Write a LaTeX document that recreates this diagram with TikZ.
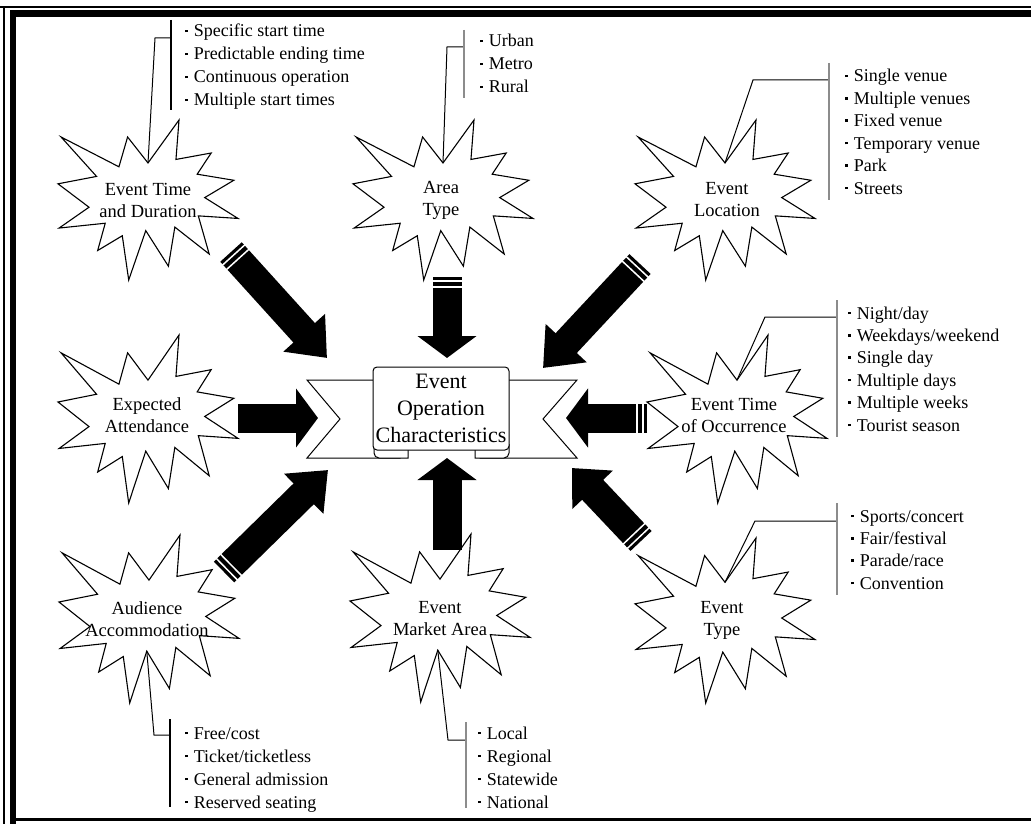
\documentclass[tikz,border=0pt]{standalone}
\usepackage{fontspec}
\setmainfont{Liberation Serif}
\usetikzlibrary{arrows.meta, calc}

\newcommand\sqb{\raisebox{0.27em}{\rule{2.6pt}{2.6pt}}\hspace{6pt}}

% explosion outline on a 216 x 216 grid
\newcommand\boomstar[5]{%
  \begin{scope}[shift={(#2,#3)}, xscale=#4/216, yscale=#5/216]
    \draw[starline] (108,58) -- (145.22,0) -- (141.55,53.25) -- (183.8,44.57) -- (167.02,73.15)
      -- (210.97,81.37) -- (176.07,104.75) -- (216,132.9) -- (168.37,129.42) -- (181.45,180.95)
      -- (140.2,144.57) -- (132.47,197.37) -- (105.32,149.35) -- (84.85,216) -- (77.15,156.27)
      -- (47.62,176.17) -- (56.67,139.37) -- (1.35,145.87) -- (37.22,117.75) -- (0,86.15)
      -- (46.27,76.17) -- (3.7,22.95) -- (73.12,63.2) -- (83.52,22.95) -- cycle;
    \coordinate (#1-top) at (108,58);
    \coordinate (#1-bot) at (105.32,149.35);
  \end{scope}}

% white bands across the tail of a fat arrow
\newcommand\tailbands[2]{%
  \foreach \d in {4pt,10pt}
    {\draw[white, line width=1.5pt] ($(#1)!\d!(#2)!16pt!90:(#2)$) -- ($(#1)!\d!(#2)!16pt!-90:(#2)$);}}

\begin{document}
\begin{tikzpicture}[x=1pt, y=-1pt,
    starline/.style={draw, line width=1.1pt, fill=white},
    startext/.style={align=center, inner sep=0pt, font=\fontsize{18.5}{22}\selectfont},
    listitem/.style={anchor=west, inner sep=0pt, text height=12pt, text depth=4pt, font=\fontsize{18}{22}\selectfont},
    lead/.style={line width=1pt},
    rail/.style={line width=1.8pt, black!45},
    darkrail/.style={line width=1.6pt, black},
    fatarrow/.style={line width=29pt, -{Triangle[length=22pt, width=58pt]}},
    slantarrow/.style={line width=29pt, -{Triangle[length=#1, width=54pt]}},
    slantarrow/.default=34pt
  ]
  \fill[white] (0,0) rectangle (1031,824);
  \useasboundingbox (0,0) rectangle (1031,824);

  % frame
  \fill (0,6) rectangle (1031,8);
  \fill (10,10) rectangle (1031,17);
  \fill (3,6) rectangle (5,824);
  \fill (10,10) rectangle (16,824);
  \fill (10,818) rectangle (1031,821);

  % the eight factors
  \boomstar{dur}{58}{120}{180}{160}
  \node[startext] (durtxt) at (148,200) {Event Time\\and Duration};
  \boomstar{area}{353}{120}{180}{160}
  \node[startext] (areatxt) at (441,200) {Area\\Type};
  \boomstar{loc}{635}{120}{180}{160}
  \node[startext] (loctxt) at (727,200) {Event\\Location};
  \boomstar{att}{58}{335}{180}{168}
  \node[startext] (atttxt) at (147,415) {Expected\\Attendance};
  \boomstar{occ}{647}{335}{180}{168}
  \node[startext] (occtxt) at (734,415) {Event Time\\of Occurrence};
  \boomstar{aud}{59}{535}{180}{168}
  \node[startext] (audtxt) at (147,619) {Audience\\Accommodation};
  \boomstar{mkt}{350}{534}{180}{168}
  \node[startext] (mkttxt) at (440,619) {Event\\Market Area};
  \boomstar{typ}{635}{538}{180}{165}
  \node[startext] (typtxt) at (722,620) {Event\\Type};

  % lists
  \coordinate (durrail) at (171,38);
  \draw[lead] (dur-top) -- (155,38) -- (durrail);
  \draw[darkrail] (171,20) -- (171,110);
  \foreach \t [count=\i] in {Specific start time, Predictable ending time, Continuous operation, Multiple start times}
    \node[listitem] (dur-\i) at (185,33+23*\i-23) {\sqb\t};

  \coordinate (arearail) at (464,47);
  \draw[lead] (area-top) -- (447,47) -- (arearail);
  \draw[rail] (464,30) -- (464,98);
  \foreach \t [count=\i] in {Urban, Metro, Rural}
    \node[listitem] (area-\i) at (480,43+23*\i-23) {\sqb\t};

  \coordinate (locrail) at (829,80);
  \draw[lead] (loc-top) -- (753,80) -- (locrail);
  \draw[rail] (829,63) -- (829,200);
  \foreach \t [count=\i] in {Single venue, Multiple venues, Fixed venue, Temporary venue, Park, Streets}
    \node[listitem] (loc-\i) at (845,78+22.4*\i-22.4) {\sqb\t};

  \coordinate (occrail) at (837,317);
  \draw[lead] (occ-top) -- (765,317) -- (occrail);
  \draw[rail] (837,300) -- (837,437);
  \foreach \t [count=\i] in {Night/day, Weekdays/weekend, Single day, Multiple days, Multiple weeks, Tourist season}
    \node[listitem] (occ-\i) at (848,315+22.4*\i-22.4) {\sqb\t};

  \coordinate (typrail) at (837,521);
  \draw[lead] (typ-top) -- (755,521) -- (typrail);
  \draw[rail] (837,503) -- (837,595);
  \foreach \t [count=\i] in {Sports/concert, Fair/festival, Parade/race, Convention}
    \node[listitem] (typ-\i) at (851,518+22.4*\i-22.4) {\sqb\t};

  \coordinate (audrail) at (170,735);
  \draw[lead] (aud-bot) -- (154,735) -- (audrail);
  \draw[darkrail] (170,719) -- (170,807);
  \foreach \t [count=\i] in {Free/cost, Ticket/ticketless, General admission, Reserved seating}
    \node[listitem] (aud-\i) at (185,735+23*\i-23) {\sqb\t};

  \coordinate (mktrail) at (466,740);
  \draw[lead] (mkt-bot) -- (448,740) -- (mktrail);
  \draw[rail] (466,722) -- (466,808);
  \foreach \t [count=\i] in {Local, Regional, Statewide, National}
    \node[listitem] (mkt-\i) at (478,735+23*\i-23) {\sqb\t};

  % ribbon in the middle
  \draw[line width=1pt, fill=white] (307,380) -- (400,380) -- (400,458) -- (307,458) -- (340,419) -- cycle;
  \draw[line width=1pt, fill=white] (577,380) -- (480,380) -- (480,458) -- (577,458) -- (543,419) -- cycle;
  \draw[line width=1pt, fill=white] (374,444) -- (374,453) to[out=-90, in=180] (379,458) -- (408,458) -- (408,444);
  \draw[line width=1pt, fill=white] (475,444) -- (475,458) -- (504,458) to[out=0, in=-90] (509,453) -- (509,444);
  \node[draw, line width=1pt, fill=white, rounded corners=4pt, minimum width=136pt, minimum height=83pt,
        inner sep=0pt, align=center, font=\fontsize{22}{27}\selectfont] (core) at (441,408.5)
        {Event\\Operation\\Characteristics};

  % fat arrows
  \coordinate (tail1) at (231,252);  \coordinate (tip1) at (327,358);
  \coordinate (tail2) at (447,277);  \coordinate (tip2) at (447,358);
  \coordinate (tail3) at (640,264);  \coordinate (tip3) at (543,368);
  \coordinate (tail4) at (238,418);  \coordinate (tip4) at (318,418);
  \coordinate (tail5) at (647,418);  \coordinate (tip5) at (566,418);
  \coordinate (tail6) at (224,572);  \coordinate (tip6) at (328,470);
  \coordinate (tail7) at (447,550);  \coordinate (tip7) at (447,458);
  \coordinate (tail8) at (641,541);  \coordinate (tip8) at (572,468);
  \foreach \a in {2,4,5,7}
    {\draw[fatarrow] (tail\a) -- (tip\a);}
  \foreach \a in {1,3,6}
    {\draw[slantarrow] (tail\a) -- (tip\a);}
  \draw[slantarrow=30pt] (tail8) -- (tip8);
  \foreach \a in {1,2,3,5,6,8}
    {\tailbands{tail\a}{tip\a}}
\end{tikzpicture}
\end{document}
